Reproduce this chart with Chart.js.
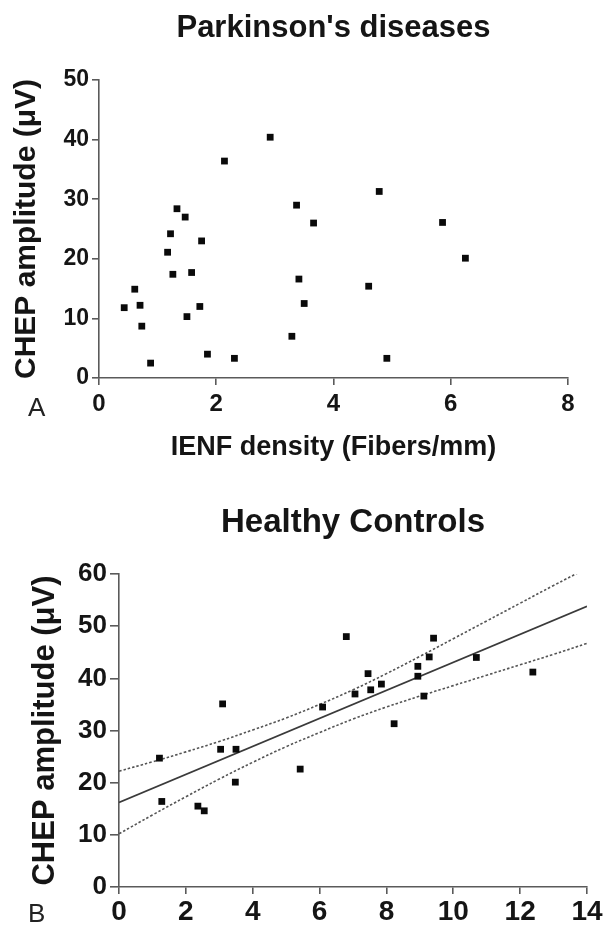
<!DOCTYPE html>
<html>
<head>
<meta charset="utf-8">
<script src="https://cdn.jsdelivr.net/npm/chart.js@4.4.1/dist/chart.umd.min.js"></script>
<style>
  html, body { margin: 0; padding: 0; background: #ffffff; }
  body { width: 616px; height: 926px; position: relative; overflow: hidden; font-family: "Liberation Sans", Arial, sans-serif; }
  .wrap { position: absolute; left: 0; width: 616px; }
  #w1 { top: 0; height: 470px; }
  #w2 { top: 470px; height: 456px; }
  .panel { position: absolute; font-size: 26px; color: #222; line-height: 1; }
</style>
</head>
<body>
<div class="wrap" id="w1"><canvas id="c1" width="616" height="470"></canvas></div>
<div class="wrap" id="w2"><canvas id="c2" width="616" height="456"></canvas></div>
<div class="panel" style="left:28px; top:394px;">A</div>
<div class="panel" style="left:28px; top:900px;">B</div>
<script>
// ---- Panel A: Parkinson's diseases ----
const pdTitle = "Parkinson's diseases";
const pdXTitle = "IENF density (Fibers/mm)";
const yTitle = "CHEP amplitude (\u03BCV)";
const pdX = [0.43,0.61,0.70,0.73,0.88,1.17,1.22,1.26,1.33,1.47,1.50,1.58,1.72,1.75,1.85,2.14,2.31,2.92,3.29,3.37,3.41,3.50,3.66,4.60,4.78,4.91,5.86,6.25];
const pdY = [11.8,14.9,12.2,8.7,2.5,21.1,24.2,17.4,28.4,27.0,10.3,17.7,12.0,23.0,4.0,36.4,3.3,40.4,7.0,29.0,16.6,12.5,26.0,15.4,31.3,3.3,26.1,20.1];
const pdXTicks = [0,2,4,6,8];
const pdYTicks = [0,10,20,30,40,50];

// ---- Panel B: Healthy Controls ----
const hcTitle = "Healthy Controls";
const hcX = [1.21,1.28,2.36,2.55,3.04,3.10,3.48,3.50,5.42,6.09,6.80,7.06,7.45,7.53,7.85,8.23,8.94,8.94,9.12,9.28,9.41,10.69,12.38];
const hcY = [24.7,16.4,15.5,14.6,26.4,35.1,20.1,26.4,22.6,34.5,48.0,37.0,40.9,37.8,38.9,31.3,42.3,40.4,36.6,44.1,47.7,44.0,41.2];
const fitX = [0,14];
const fitY = [16.2,53.8];
const bandX = [0,1,2,3,4,5,6,7,8,9,10,11,12,13,14];
const bandUpper = [22.2,24.0,25.9,27.9,30.1,32.4,35.0,37.8,40.9,44.2,47.6,51.0,54.4,57.8,61.1];
const bandLower = [10.2,13.8,17.3,20.7,23.9,26.9,29.6,32.2,34.5,36.6,38.6,40.6,42.6,44.6,46.7];
const hcXTicks = [0,2,4,6,8,10,12,14];
const hcYTicks = [0,10,20,30,40,50,60];

const FONT = "'Liberation Sans', Arial, Helvetica, sans-serif";
const AXIS = '#5a5a5a';
const TXT = '#151515';

const pts = (xs, ys) => xs.map((x, i) => ({x: x, y: ys[i]}));

function axes(o) {
  return {
    x: {
      type: 'linear', min: o.xTicks[0], max: o.xTicks[o.xTicks.length - 1],
      afterBuildTicks: s => { s.ticks = o.xTicks.map(v => ({value: v})); },
      afterFit: s => { s.height = o.xH; },
      border: {display: true, color: AXIS, width: 1.6},
      grid: {display: true, drawOnChartArea: false, drawTicks: true, tickLength: 7, tickColor: AXIS, lineWidth: 1.6},
      ticks: {color: TXT, font: {family: FONT, size: o.xFont, weight: 'bold'}, padding: o.xPad, maxRotation: 0, autoSkip: false},
      title: o.xTitle ? {display: true, text: o.xTitle, color: TXT, font: {family: FONT, size: 27, weight: 'bold'}, padding: {top: 0, bottom: 6}} : {display: false}
    },
    y: {
      type: 'linear', min: o.yTicks[0], max: o.yTicks[o.yTicks.length - 1],
      afterBuildTicks: s => { s.ticks = o.yTicks.map(v => ({value: v})); },
      afterFit: s => { s.width = o.yW; },
      border: {display: true, color: AXIS, width: 1.6},
      grid: {display: true, drawOnChartArea: false, drawTicks: true, tickLength: o.yTick, tickColor: AXIS, lineWidth: 1.6},
      ticks: {color: TXT, font: {family: FONT, size: o.yFont, weight: 'bold'}, padding: 3},
      title: {display: true, text: yTitle, color: TXT, font: {family: FONT, size: o.yTitleSize, weight: 'bold'}, padding: {top: o.yTitlePad, bottom: 0}}
    }
  };
}

function titleOpt(text, size, pt, pb) {
  return {display: true, text: text, fullSize: false, align: 'center', color: TXT,
          font: {family: FONT, size: size, weight: 'bold'}, padding: {top: pt, bottom: pb}};
}

const sq = {pointStyle: 'rect', pointRadius: 4.8, pointHoverRadius: 4.8, backgroundColor: '#0a0a0a', borderWidth: 0, showLine: false};

new Chart(document.getElementById('c1'), {
  type: 'scatter',
  data: {datasets: [Object.assign({label: 'PD', data: pts(pdX, pdY)}, sq)]},
  options: {
    responsive: false, animation: false, events: [],
    layout: {padding: {left: 0, top: 0, right: 48, bottom: 0}},
    plugins: {legend: {display: false}, tooltip: {enabled: false}, title: titleOpt(pdTitle, 31, 9.5, 33.3)},
    scales: axes({xTicks: pdXTicks, yTicks: pdYTicks, xH: 92, yW: 99, xFont: 24, yFont: 23, yTick: 7, xPad: 5, xTitle: pdXTitle, yTitleSize: 30, yTitlePad: 9})
  }
});

new Chart(document.getElementById('c2'), {
  type: 'scatter',
  data: {datasets: [
    Object.assign({label: 'HC', data: pts(hcX, hcY)}, sq),
    {label: 'fit', data: pts(fitX, fitY), showLine: true, pointRadius: 0, borderColor: '#3a3a3a', borderWidth: 1.6, fill: false},
    {label: 'upper', data: pts(bandX, bandUpper), showLine: true, pointRadius: 0, borderColor: '#555', borderWidth: 1.6, borderDash: [2.5, 2], tension: 0.4, fill: false},
    {label: 'lower', data: pts(bandX, bandLower), showLine: true, pointRadius: 0, borderColor: '#555', borderWidth: 1.6, borderDash: [2.5, 2], tension: 0.4, fill: false}
  ]},
  options: {
    responsive: false, animation: false, events: [],
    layout: {padding: {left: 0, top: 0, right: 29, bottom: 0}},
    plugins: {legend: {display: false}, tooltip: {enabled: false}, title: titleOpt(hcTitle, 33, 33.2, 31.2)},
    scales: axes({xTicks: hcXTicks, yTicks: hcYTicks, xH: 39, yW: 119, xFont: 28, yFont: 26, yTick: 9, xPad: 1, xTitle: null, yTitleSize: 31, yTitlePad: 27})
  }
});
</script>
</body>
</html>
